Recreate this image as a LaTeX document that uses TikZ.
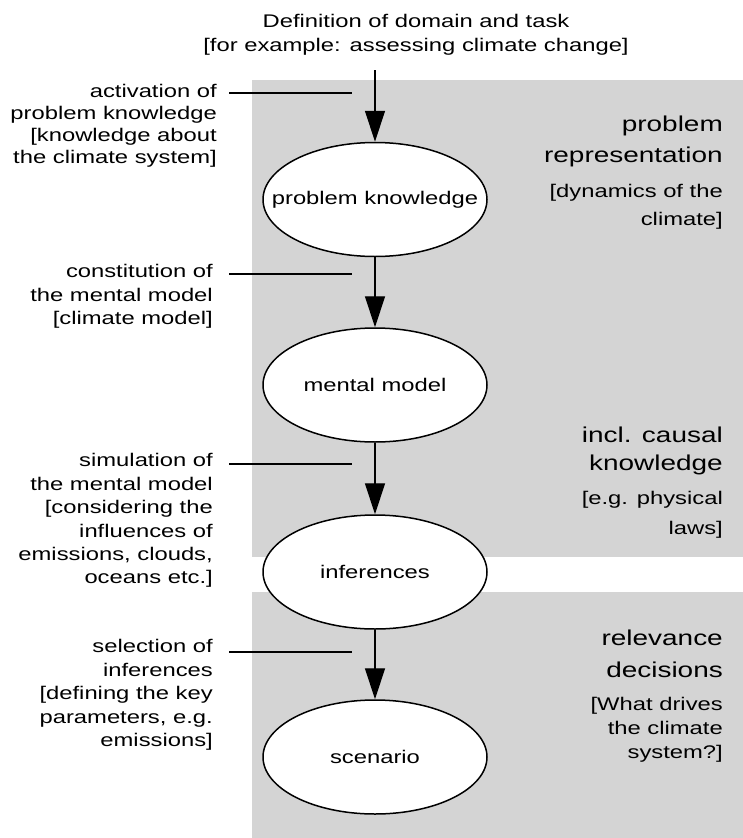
\documentclass[tikz,border=0pt]{standalone}
\usepackage{fontspec}
\setmainfont{Liberation Sans}[FakeStretch=1.3]
\usetikzlibrary{arrows.meta,shapes.geometric}
\newcommand{\nowidth}[1]{\makebox[0pt]{#1}}
\tikzset{
  node-s/.style={draw,ellipse,fill=white,line width=1.5pt,minimum width=224pt,minimum height=114pt,inner sep=0pt,font=\fontsize{18.3}{23.4}\selectfont},
  flow/.style={-{Triangle[length=31pt,width=20pt]},line width=1.3pt},
  lead/.style={line width=1.3pt},
  band/.style={fill=black!17},
  txt-top/.style={align=center,anchor=north,inner sep=0pt,font=\fontsize{18.3}{24}\selectfont},
  txt-step/.style={align=right,anchor=north east,inner sep=0pt,font=\fontsize{18.3}{#1}\selectfont},
  txt-step/.default=23.4,
  txt-head/.style={align=right,anchor=north east,inner sep=0pt,font=\fontsize{21.5}{#1}\selectfont},
  txt-note/.style={align=right,anchor=north east,inner sep=0pt,font=\fontsize{18.3}{#1}\selectfont},
}

\begin{document}
\begin{tikzpicture}[x=1pt,y=-1pt]

  \useasboundingbox (0,0) rectangle (743,838);

  \fill[band] (252,80)  rectangle (743,557);
  \fill[band] (252,592) rectangle (743,838);

  % TASK
  \node[txt-top] (task) at (416,14.5) {Definition of domain and task\\{}[for example: assessing climate change]};
  \coordinate (start) at (375,70);

  % STAGES
  \node[node-s] (know)  at (375,199.5) {\nowidth{problem knowledge}};
  \node[node-s] (model) at (375,385)   {\nowidth{mental model}};
  \node[node-s] (infer) at (375,572)   {\nowidth{inferences}};
  \node[node-s] (scen)  at (375,757)   {\nowidth{scenario}};
  \draw[flow] (start) -- (know);
  \draw[flow] (know)  -- (model);
  \draw[flow] (model) -- (infer);
  \draw[flow] (infer) -- (scen);

  % LEFT: steps
  \node[txt-step=22] (s1) at (217,84.5)  {activation of\\problem knowledge\\{}[knowledge about\\the climate system]};
  \node[txt-step] (s2) at (213,264.5) {constitution of\\the mental model\\{}[climate model]};
  \node[txt-step] (s3) at (213,453.5) {simulation of\\the mental model\\{}[considering the\\influences of\\emissions, clouds,\\oceans etc.]};
  \node[txt-step] (s4) at (213,639.5) {selection of\\inferences\\{}[defining the key\\parameters, e.g.\\emissions]};
  \coordinate (l1a) at (229,93);  \coordinate (l1b) at (352,93);
  \coordinate (l2a) at (229,274); \coordinate (l2b) at (352,274);
  \coordinate (l3a) at (229,464); \coordinate (l3b) at (352,464);
  \coordinate (l4a) at (229,652); \coordinate (l4b) at (352,652);
  \draw[lead] (l1a) -- (l1b);
  \draw[lead] (l2a) -- (l2b);
  \draw[lead] (l3a) -- (l3b);
  \draw[lead] (l4a) -- (l4b);

  % RIGHT: representation
  \node[txt-head=31] (h1) at (723,116)   {problem\\representation};
  \node[txt-note=28] (n1) at (723,183.6) {[dynamics of the\\climate]};
  \node[txt-head=28] (h2) at (723,427)   {incl. causal\\knowledge};
  \node[txt-note=30] (n2) at (723,491.5) {[e.g. physical\\laws]};
  \node[txt-head=32] (h3) at (723,630)   {relevance\\decisions};
  \node[txt-note=24] (n3) at (723,697.5) {[What drives\\the climate\\system?]};

\end{tikzpicture}
\end{document}
